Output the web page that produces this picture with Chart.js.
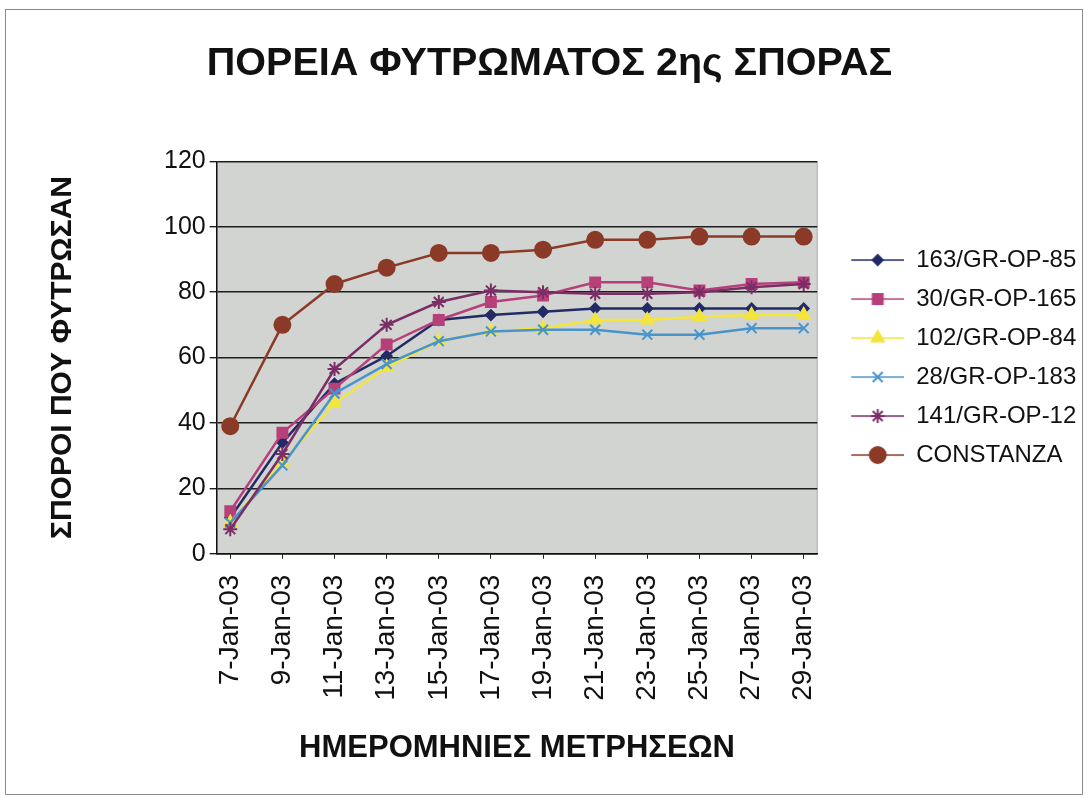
<!DOCTYPE html>
<html>
<head>
<meta charset="utf-8">
<script src="https://cdn.jsdelivr.net/npm/chart.js@4"></script>
<style>
  html, body { margin: 0; padding: 0; background: #fff; }
  #frame { position: absolute; left: 5px; top: 9px; width: 1076px; height: 784px; border: 1px solid #8a8a8a; }
  #wrap { position: absolute; left: 0; top: 0; width: 1087px; height: 798px; }
</style>
</head>
<body>
<div id="frame"></div>
<div id="wrap"><canvas id="growthChart" width="1087" height="798"></canvas></div>
<script>
const dates = ["7-Jan-03", "9-Jan-03", "11-Jan-03", "13-Jan-03", "15-Jan-03", "17-Jan-03",
               "19-Jan-03", "21-Jan-03", "23-Jan-03", "25-Jan-03", "27-Jan-03", "29-Jan-03"];

const gr85  = [11, 34, 52, 60.5, 71.5, 73, 74, 75, 75, 75, 75, 75];
const gr165 = [13, 37, 50.5, 64, 71.5, 77, 79, 83, 83, 80.5, 82.5, 83];
const gr84  = [9.5, 28, 46, 57, 65, 68, 69, 71.5, 71.5, 72.5, 73, 73];
const gr183 = [9.5, 27, 49, 58, 65, 68, 68.5, 68.5, 67, 67, 69, 69];
const gr12  = [7.5, 30.5, 56.5, 70, 77, 80.5, 80, 79.5, 79.5, 80, 81.5, 82.5];
const constanza = [39, 70, 82.5, 87.5, 92, 92, 93, 96, 96, 97, 97, 97];

const series = [
  { name: "163/GR-OP-85",  values: gr85,      color: "#232b66", style: "rectRot",  radius: 5, fill: true },
  { name: "30/GR-OP-165",  values: gr165,     color: "#b8407a", style: "rect",     radius: 7, fill: true },
  { name: "102/GR-OP-84",  values: gr84,      color: "#f4e53a", style: "triangle", radius: 7, fill: true },
  { name: "28/GR-OP-183",  values: gr183,     color: "#4a94cc", style: "crossRot", radius: 7, fill: false },
  { name: "141/GR-OP-12",  values: gr12,      color: "#7b2e66", style: "star",     radius: 7, fill: false },
  { name: "CONSTANZA",     values: constanza, color: "#8c3a28", style: "circle",   radius: 8, fill: true }
];

// legend symbol: short line with the marker in the middle, left margin kept empty
const ICON_GAP = 19;
const ICON_LINE = 53;
function legendIcon(s) {
  const c = document.createElement("canvas");
  c.width = ICON_GAP + ICON_LINE; c.height = 22;
  const ctx = c.getContext("2d");
  ctx.strokeStyle = s.color;
  ctx.lineWidth = 1.6;
  ctx.beginPath();
  ctx.moveTo(ICON_GAP, 11); ctx.lineTo(ICON_GAP + ICON_LINE, 11);
  ctx.stroke();
  ctx.fillStyle = s.color;
  ctx.lineWidth = 2;
  Chart.helpers.drawPoint(ctx, { pointStyle: s.style, radius: s.radius, rotation: 0, borderWidth: 2 },
    ICON_GAP + ICON_LINE / 2, 11);
  return c;
}

const icons = series.map(legendIcon);

const plotBackground = {
  id: "plotBackground",
  beforeDraw(chart) {
    const { ctx, chartArea: a } = chart;
    ctx.save();
    ctx.fillStyle = "#d1d4d0";
    ctx.fillRect(a.left, a.top, a.right - a.left, a.bottom - a.top);
    ctx.strokeStyle = "#a9aca8";
    ctx.lineWidth = 1;
    ctx.strokeRect(a.left, a.top, a.right - a.left, a.bottom - a.top);
    ctx.restore();
  }
};

new Chart(document.getElementById("growthChart"), {
  type: "line",
  data: {
    datasets: series.map((s, i) => ({
      label: s.name,
      data: s.values.map((v, k) => ({ x: k, y: v })),
      borderColor: s.color,
      backgroundColor: s.color,
      borderWidth: 2.5,
      pointStyle: s.style,
      pointRadius: s.radius,
      pointBorderWidth: 2,
      pointBackgroundColor: s.fill ? s.color : "rgba(0,0,0,0)",
      pointBorderColor: s.color,
      tension: 0,
      order: series.length - i
    }))
  },
  options: {
    responsive: false,
    animation: false,
    layout: { padding: { left: 14, right: 2, top: 0, bottom: 31 } },
    plugins: {
      title: {
        display: true,
        text: "ΠΟΡΕΙΑ ΦΥΤΡΩΜΑΤΟΣ 2ης ΣΠΟΡΑΣ",
        color: "#111",
        font: { family: "Liberation Sans", size: 39.5, weight: "bold" },
        padding: { top: 40, bottom: 74 }
      },
      legend: {
        position: "right",
        align: "center",
        fullSize: false,
        labels: {
          color: "#111",
          font: { family: "Liberation Sans", size: 24 },
          usePointStyle: true,
          pointStyleWidth: ICON_GAP + ICON_LINE,
          boxHeight: 22,
          padding: 15,
          sort: (a, b) => a.datasetIndex - b.datasetIndex,
          generateLabels(chart) {
            const items = Chart.defaults.plugins.legend.labels.generateLabels(chart);
            items.forEach(it => { it.pointStyle = icons[it.datasetIndex]; });
            return items;
          }
        }
      },
      tooltip: { enabled: false }
    },
    scales: {
      x: {
        type: "linear",
        min: -0.26,
        max: 11.26,
        afterBuildTicks(scale) {
          scale.ticks = dates.map((_, i) => ({ value: i }));
        },
        ticks: {
          callback: v => dates[v],
          autoSkip: false,
          minRotation: 90,
          maxRotation: 90,
          color: "#111",
          font: { family: "Liberation Sans", size: 28 },
          padding: 16
        },
        grid: { drawOnChartArea: false, color: "#222", tickLength: 5 },
        border: { color: "#111", width: 1.5 },
        title: {
          display: true,
          text: "ΗΜΕΡΟΜΗΝΙΕΣ ΜΕΤΡΗΣΕΩΝ",
          color: "#111",
          font: { family: "Liberation Sans", size: 31, weight: "bold" },
          padding: { top: 13, bottom: 0 }
        }
      },
      y: {
        min: 0,
        max: 120,
        ticks: {
          stepSize: 20,
          color: "#111",
          font: { family: "Liberation Sans", size: 25 },
          padding: 4
        },
        grid: { color: "#1e1e1e", lineWidth: 1.4, tickLength: 7 },
        border: { color: "#111", width: 1.5 },
        title: {
          display: true,
          text: "ΣΠΟΡΟΙ ΠΟΥ ΦΥΤΡΩΣΑΝ",
          color: "#111",
          font: { family: "Liberation Sans", size: 30, weight: "bold" },
          padding: { top: 31, bottom: 79 }
        }
      }
    }
  },
  plugins: [plotBackground]
});
</script>
</body>
</html>
